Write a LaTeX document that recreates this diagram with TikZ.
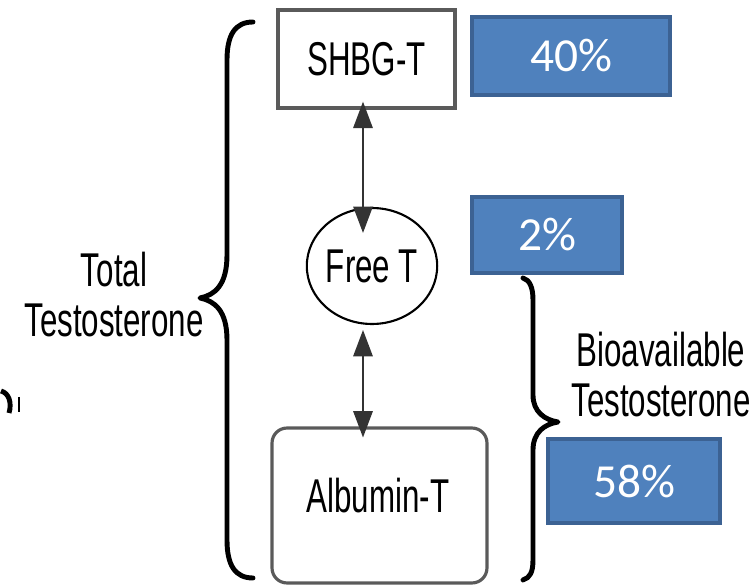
\documentclass[tikz,border=0pt]{standalone}
\usepackage{fontspec}
\usetikzlibrary{arrows.meta,shapes.geometric}
\newfontfamily\narrowfont[FakeStretch=0.66]{Liberation Sans}
\newfontfamily\calfont{Carlito}
\definecolor{pctblue}{HTML}{4F81BD}
\definecolor{pctedge}{HTML}{3C6293}
\definecolor{boxgray}{HTML}{5A5A5A}

\tikzset{
  pctbox/.style={draw=pctedge, line width=2.4pt, fill=pctblue, text=white,
    font=\calfont\fontsize{27}{30}\selectfont, inner sep=0pt},
  specbox/.style={draw=boxgray, line width=1.8pt,
    font=\narrowfont\fontsize{27}{29}\selectfont, inner sep=0pt},
  bracepath/.style={line width=2.8pt, line join=round, line cap=round},
  twoway/.style={{Triangle[length=15pt,width=11pt]}-{Triangle[length=15pt,width=11pt]},
    line width=1.1pt, draw=black!80},
  sidelabel/.style={font=\narrowfont\fontsize{27}{28.5}\selectfont, align=center, inner sep=0pt}
}

\begin{document}
\begin{tikzpicture}[x=0.02cm,y=-0.02cm]
    \useasboundingbox (0,0) rectangle (752,588);
    % binding forms
    \node[specbox, minimum width=3.54cm, minimum height=1.96cm] (shbg) at (366.5,59) {SHBG-T};
    \node[specbox, draw=black, line width=1.2pt, ellipse, minimum width=2.56cm, minimum height=2.32cm] (free) at (372,266) {Free T};
    \node[specbox, rounded corners=0.3cm, minimum width=4.3cm, minimum height=3.1cm] (albumin) at (379.5,505.5) {};
    \node[sidelabel] (albtext) at (378,496) {Albumin-T};
    % equilibrium arrows
    \draw[twoway, shorten <=-4.5pt, shorten >=-14.8pt] ([xshift=-0.07cm]shbg.south) -- ([xshift=-0.07cm]shbg.south |- free.north);
    \draw[twoway, shorten <=2.8pt, shorten >=-6.3pt] ([xshift=-0.18cm]free.south) -- ([xshift=-0.18cm]free.south |- albumin.north);
    % percentages
    \node[pctbox, minimum width=3.96cm, minimum height=1.56cm] (pforty) at (571,56) {40\%};
    \node[pctbox, minimum width=3.0cm, minimum height=1.52cm] (ptwo) at (547,235) {2\%};
    \node[pctbox, minimum width=3.44cm, minimum height=1.68cm] (pfiftyeight) at (634,481) {\raisebox{-0.1cm}{58\%}};
    % braces
    \draw[bracepath] (253,22) .. controls (235,22) and (227,35) .. (227,60) -- (227,255)
        .. controls (227,285) and (215,295) .. (200,298)
        .. controls (215,301) and (227,311) .. (227,340) -- (227,540)
        .. controls (227,565) and (235,578) .. (253,578);
    \draw[bracepath] (523,278) .. controls (530,280) and (533,288) .. (533,300) -- (533,395)
        .. controls (533,412) and (545,420) .. (558,422)
        .. controls (545,424) and (533,432) .. (533,450) -- (533,560)
        .. controls (533,572) and (530,578) .. (523,580);
    \node[sidelabel] (total) at (114,295) {Total\\Testosterone};
    \node[sidelabel] (bioavail) at (661,375) {Bioavailable\\Testosterone};
    % cut-off mark at the left edge
    \draw[line width=2.8pt] (1,391) .. controls (9,393) and (12,403) .. (9,413);
    \draw[line width=0.7pt] (19,397) -- (19,412);
\end{tikzpicture}
\end{document}
